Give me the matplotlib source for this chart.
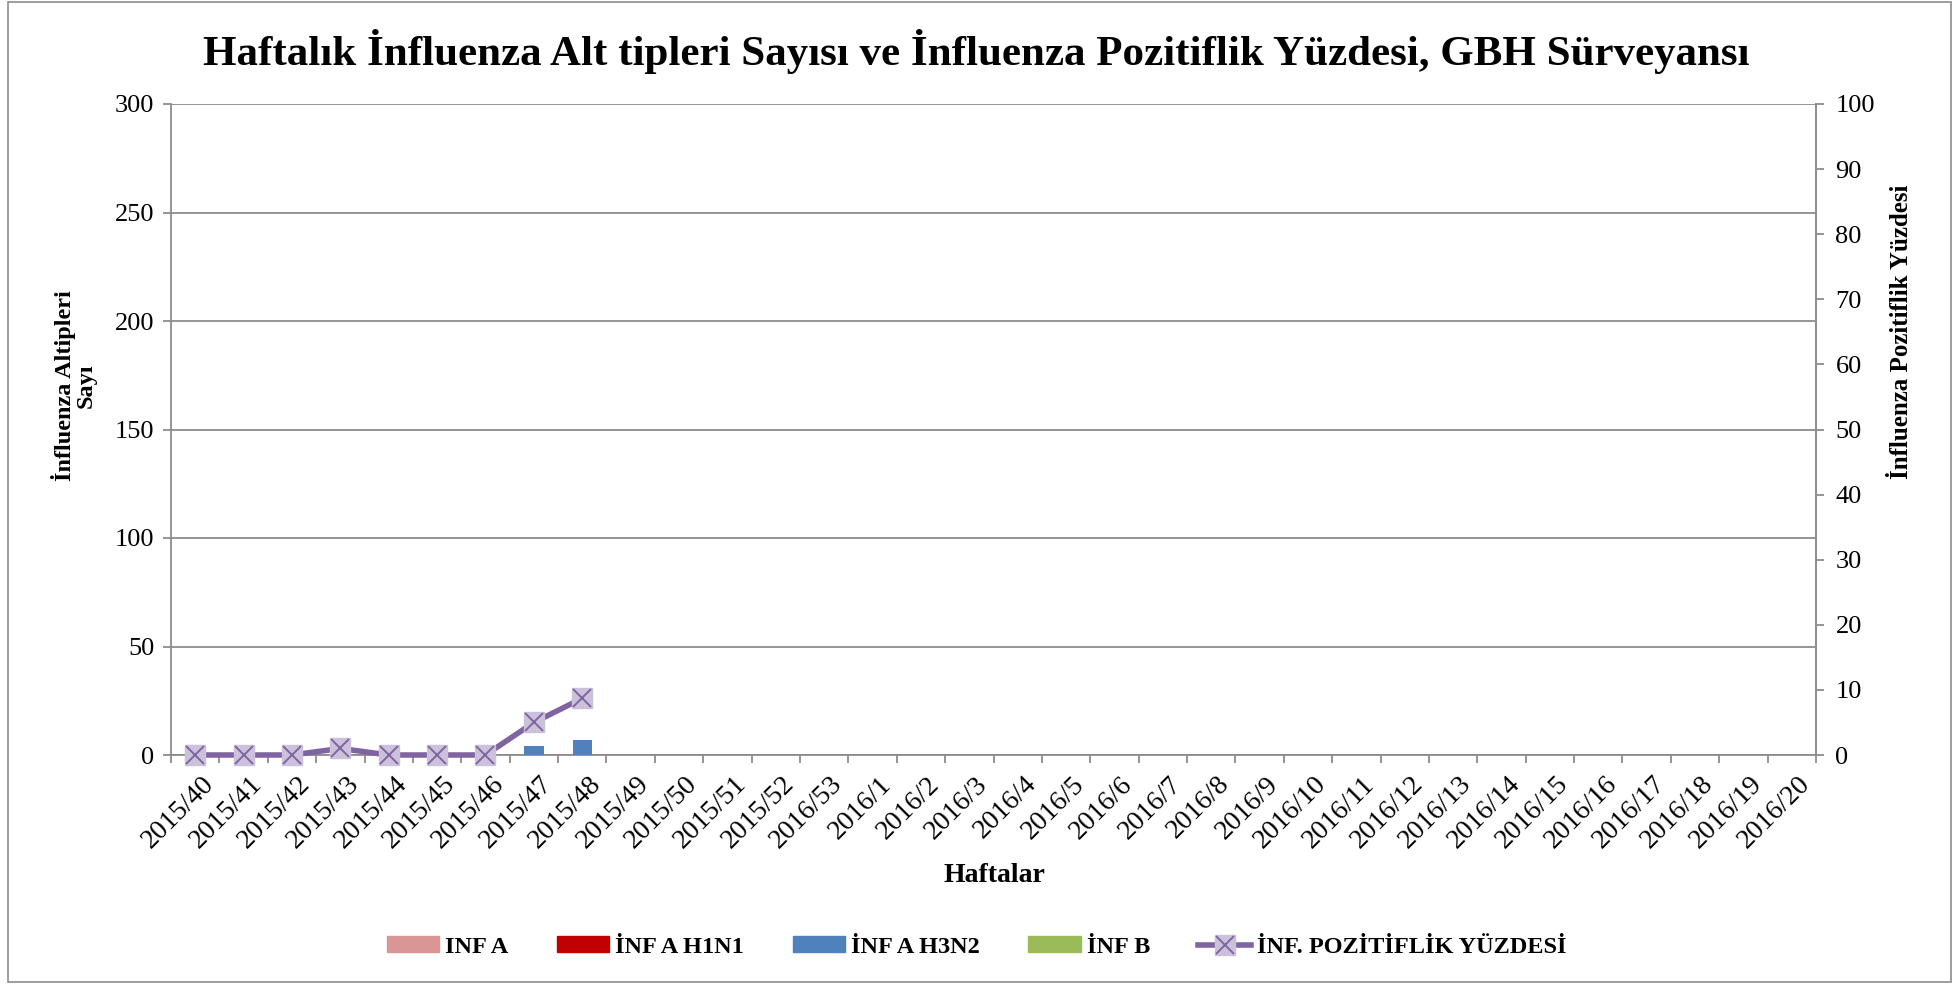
import matplotlib
matplotlib.use("Agg")
import matplotlib.pyplot as plt
import numpy as np
from matplotlib.lines import Line2D
from matplotlib.patches import Patch

plt.rcParams['font.family'] = ['Liberation Serif', 'DejaVu Serif']

weeks = (["2015/%d" % w for w in range(40, 53)] + ["2016/53"] +
         ["2016/%d" % w for w in range(1, 21)])
n = len(weeks)

inf_a = [0] * 9 + [np.nan] * (n - 9)
inf_h1n1 = [0] * 9 + [np.nan] * (n - 9)
inf_h3n2 = [0, 0, 0, 0, 0, 0, 0, 4, 7] + [np.nan] * (n - 9)
inf_b = [0] * 9 + [np.nan] * (n - 9)
positivity = [0, 0, 0, 1.0, 0, 0, 0, 5.0, 8.7] + [np.nan] * (n - 9)

c_a = '#D99694'
c_h1 = '#C00000'
c_h3 = '#4F81BD'
c_b = '#9BBB59'
c_line = '#8064A2'
c_mark = '#CCC1DA'
grey = '#8C8C8C'

W, H = 1953, 984
fig = plt.figure(figsize=(W / 100, H / 100), dpi=100)

# outer border
fig.patches.append(plt.Rectangle((8 / W, 2 / H), (1951 - 8) / W, (982 - 2) / H,
                                 transform=fig.transFigure, fill=False,
                                 edgecolor=grey, linewidth=1.2))

left, right, top, bottom = 171, 1816, 104, 755
ax = fig.add_axes([left / W, 1 - bottom / H, (right - left) / W, (bottom - top) / H])

x = np.arange(n)
bw = 0.4
a = np.nan_to_num(np.array(inf_a, dtype=float))
h1 = np.nan_to_num(np.array(inf_h1n1, dtype=float))
h3 = np.nan_to_num(np.array(inf_h3n2, dtype=float))
b = np.nan_to_num(np.array(inf_b, dtype=float))
ax.bar(x, a, bw, color=c_a, zorder=3)
ax.bar(x, h1, bw, bottom=a, color=c_h1, zorder=3)
ax.bar(x, h3, bw, bottom=a + h1, color=c_h3, zorder=3)
ax.bar(x, b, bw, bottom=a + h1 + h3, color=c_b, zorder=3)

ax.set_xlim(-0.5, n - 0.5)
ax.set_ylim(0, 300)
ax.set_yticks(np.arange(0, 301, 50))
ax.yaxis.grid(True, color=grey, linewidth=1.3, zorder=0)
ax.set_axisbelow(True)
ax.set_xticks(np.arange(-0.5, n, 1.0))
ax.set_xticklabels([])
ax.set_xticks(x + 0.12, minor=True)
ax.set_xticklabels(weeks, minor=True, rotation=45, ha='right', va='top',
                   rotation_mode='anchor', fontsize=20)
ax.tick_params(axis='x', which='minor', length=0, pad=12)
ax.tick_params(axis='x', which='major', length=6, width=1.3, color=grey, direction='out')
ax.tick_params(axis='y', length=6, width=1.3, color=grey, direction='out', labelsize=19, pad=6)
for s in ['left', 'bottom', 'right']:
    ax.spines[s].set_color(grey)
    ax.spines[s].set_linewidth(1.3)
ax.spines['top'].set_visible(False)

ax2 = ax.twinx()
ax2.set_ylim(0, 100)
ax2.set_yticks(np.arange(0, 101, 10))
ax2.tick_params(axis='y', length=6, width=1.3, color=grey, direction='out', labelsize=19, pad=8)
for s in ['left', 'bottom', 'right', 'top']:
    ax2.spines[s].set_visible(False)
ax2.spines['right'].set_visible(True)
ax2.spines['right'].set_color(grey)
ax2.spines['right'].set_linewidth(1.3)

ax2.plot(x, positivity, color=c_line, linewidth=4.0, marker='s', markersize=14,
         markerfacecolor=c_mark, markeredgecolor=c_mark, zorder=4, clip_on=False)
ax2.plot(x, positivity, linestyle='none', marker='x', markersize=13,
         markeredgecolor=c_line, markeredgewidth=1.4, zorder=5, clip_on=False)

fig.text(0.5, 1 - 52 / H,
         'Haftalık İnfluenza Alt tipleri Sayısı ve İnfluenza Pozitiflik Yüzdesi, GBH Sürveyansı',
         ha='center', va='center', fontsize=31, fontweight='bold')
fig.text(74 / W, 1 - 386 / H, 'İnfluenza Altipleri\nSayı', rotation=90, ha='center',
         va='center', fontsize=17.5, fontweight='bold', linespacing=1.0)
fig.text(1902 / W, 1 - 332 / H, 'İnfluenza Pozitiflik Yüzdesi', rotation=90, ha='center',
         va='center', fontsize=18, fontweight='bold')
fig.text(994 / W, 1 - 876 / H, 'Haftalar', ha='center', va='center', fontsize=20,
         fontweight='bold')

handles = [Patch(color=c_a), Patch(color=c_h1), Patch(color=c_h3), Patch(color=c_b),
           (Line2D([], [], color=c_line, linewidth=4.0, marker='s', markersize=14,
                   markerfacecolor=c_mark, markeredgecolor=c_mark),
            Line2D([], [], linestyle='none', marker='x', markersize=13,
                   markeredgecolor=c_line, markeredgewidth=1.4))]
labels = ['INF A', 'İNF A H1N1', 'İNF A H3N2', 'İNF B', 'İNF. POZİTİFLİK YÜZDESİ']
fig.legend(handles, labels, loc='center', bbox_to_anchor=(0.5, 1 - 947 / H), ncol=5,
           frameon=False, prop={'weight': 'bold', 'size': 17.5}, handlelength=2.15,
           handleheight=0.6, handletextpad=0.25, columnspacing=2.0)

fig.savefig('out.png', dpi=100)
